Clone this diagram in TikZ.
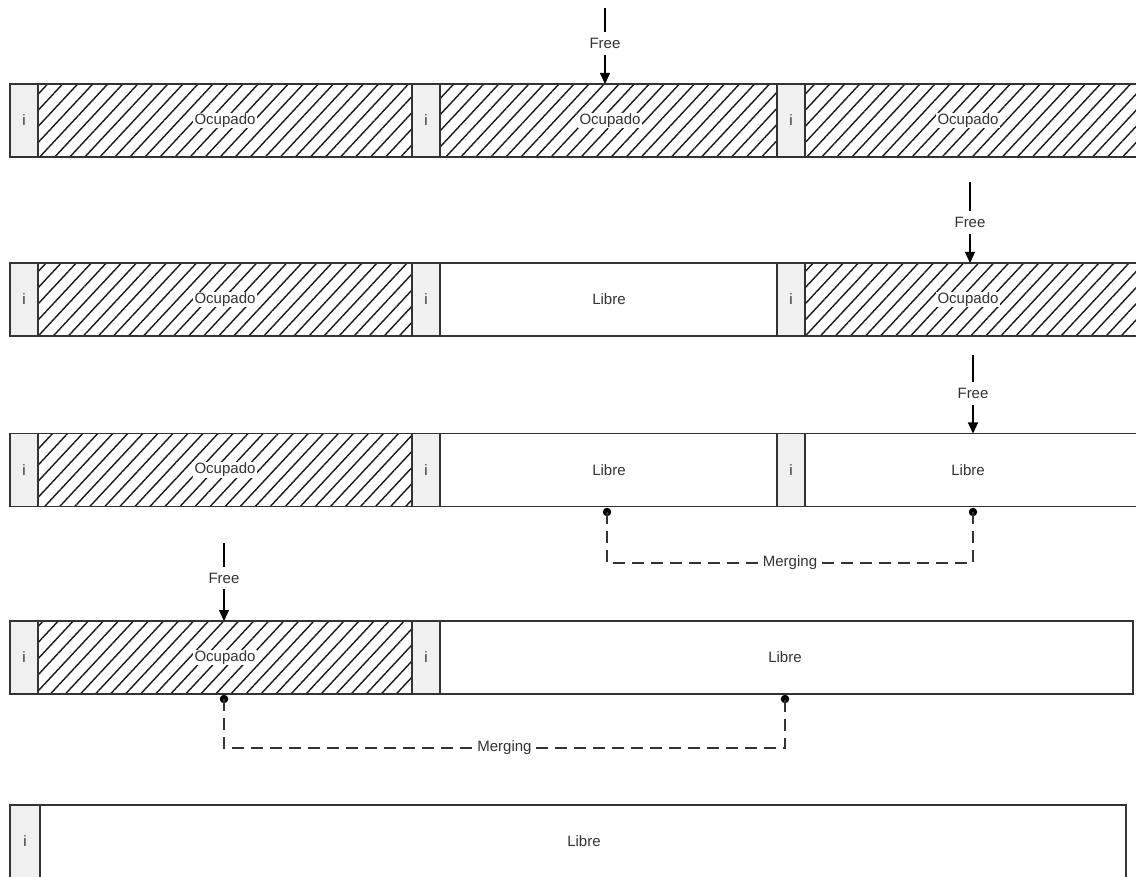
\documentclass[tikz,border=0pt]{standalone}
\usepackage{fontspec}
\setmainfont{Liberation Sans}
\usetikzlibrary{patterns.meta,arrows.meta}
\definecolor{lc}{HTML}{333333}
\definecolor{ifill}{HTML}{F0F0F0}
\definecolor{tc}{HTML}{333333}
\newcommand\mycell[5]{\node[#1, minimum width={(#4-#3)*1pt}, anchor=west] (#2) at (#3,#5) {};}
\begin{document}
\begin{tikzpicture}[x=1pt,y=-1pt, font=\fontsize{15}{18}\selectfont,
  cell/.style={draw=lc, line width=1.6pt, minimum height=73pt, inner sep=0pt, outer sep=0pt},
  icell/.style={cell, fill=ifill},
  occ/.style={cell, pattern={Lines[angle=47,distance=11pt,line width=1.4pt]}, pattern color=black!90},
  lib/.style={cell, fill=white},
  lbl/.style={fill=white, text=tc, inner xsep=1.5pt, inner ysep=1pt},
  ilbl/.style={text=tc, inner sep=0pt},
  freelbl/.style={fill=white, text=tc, inner xsep=1pt, inner ysep=6pt},
  freearrow/.style={draw=black, line width=1.1pt, -{Triangle[length=11pt,width=10pt]}},
  dot/.style={circle, fill=black, inner sep=0pt, minimum size=8.5pt},
  merge/.style={draw=lc, line width=1.5pt, dash pattern=on 12pt off 7pt},
]
\useasboundingbox (0,0) rectangle (1136,877);
\clip (0,0) rectangle (1136,877);
\fill[white] (0,0) rectangle (1136,877);

% Row 1
\mycell{icell}{r1a}{10}{38}{120.5}
\mycell{occ}{r1b}{38}{412}{120.5}
\mycell{icell}{r1c}{412}{440}{120.5}
\mycell{occ}{r1d}{440}{777}{120.5}
\mycell{icell}{r1e}{777}{805}{120.5}
\mycell{occ}{r1f}{805}{1160}{120.5}
\node[ilbl] (t1a) at (r1a) {i};
\node[ilbl] (t1c) at (r1c) {i};
\node[ilbl] (t1e) at (r1e) {i};
\node[lbl] (o1b) at (225,120.5) {Ocupado};
\node[lbl] (o1d) at (610,120.5) {Ocupado};
\node[lbl] (o1f) at (968,120.5) {Ocupado};

% Row 2
\mycell{icell}{r2a}{10}{38}{299.5}
\mycell{occ}{r2b}{38}{412}{299.5}
\mycell{icell}{r2c}{412}{440}{299.5}
\mycell{lib}{r2d}{440}{777}{299.5}
\mycell{icell}{r2e}{777}{805}{299.5}
\mycell{occ}{r2f}{805}{1160}{299.5}
\node[ilbl] (t2a) at (r2a) {i};
\node[ilbl] (t2c) at (r2c) {i};
\node[ilbl] (t2e) at (r2e) {i};
\node[lbl] (o2b) at (225,299.5) {Ocupado};
\node[lbl] (o2d) at (609,299.5) {Libre};
\node[lbl] (o2f) at (968,299.5) {Ocupado};

% Row 3
\mycell{icell}{r3a}{10}{38}{470}
\mycell{occ}{r3b}{38}{412}{470}
\mycell{icell}{r3c}{412}{440}{470}
\mycell{lib}{r3d}{440}{777}{470}
\mycell{icell}{r3e}{777}{805}{470}
\mycell{lib}{r3f}{805}{1160}{470}
\node[ilbl] (t3a) at (r3a) {i};
\node[ilbl] (t3c) at (r3c) {i};
\node[ilbl] (t3e) at (r3e) {i};
\node[lbl] (o3b) at (225,470) {Ocupado};
\node[lbl] (o3d) at (609,470) {Libre};
\node[lbl] (o3f) at (968,470) {Libre};

% Row 4
\mycell{icell}{r4a}{10}{38}{657.5}
\mycell{occ}{r4b}{38}{412}{657.5}
\mycell{icell}{r4c}{412}{440}{657.5}
\mycell{lib}{r4d}{440}{1133}{657.5}
\node[ilbl] (t4a) at (r4a) {i};
\node[ilbl] (t4c) at (r4c) {i};
\node[lbl] (o4b) at (225,657.5) {Ocupado};
\node[lbl] (o4d) at (785,657.5) {Libre};

% Row 5
\mycell{icell}{r5a}{10}{40}{841.5}
\mycell{lib}{r5b}{40}{1126}{841.5}
\node[ilbl] (t5a) at (r5a) {i};
\node[lbl] (o5b) at (584,841.5) {Libre};

% Free arrows
\coordinate (f1) at (605,8);
\coordinate (f2) at (970,182);
\coordinate (f3) at (973,355);
\coordinate (f4) at (224,543);
\draw[freearrow] (f1) -- node[freelbl, pos=0.47] {Free} (f1 |- r1d.north);
\draw[freearrow] (f2) -- node[freelbl, pos=0.5] {Free} (f2 |- r2f.north);
\draw[freearrow] (f3) -- node[freelbl, pos=0.49] {Free} (f3 |- r3f.north);
\draw[freearrow] (f4) -- node[freelbl, pos=0.45] {Free} (f4 |- r4b.north);

% Merging 1
\node[dot] (m1a) at (607,512) {};
\node[dot] (m1b) at (973,512) {};
\draw[merge] (m1a.center) -- ++(0,51) -| node[pos=0.25, lbl] {Merging} (m1b.center);

% Merging 2
\node[dot] (m2a) at (224,699) {};
\node[dot] (m2b) at (785,699) {};
\draw[merge] (m2a.center) -- ++(0,49) -| node[pos=0.25, lbl] {Merging} (m2b.center);
\end{tikzpicture}
\end{document}
